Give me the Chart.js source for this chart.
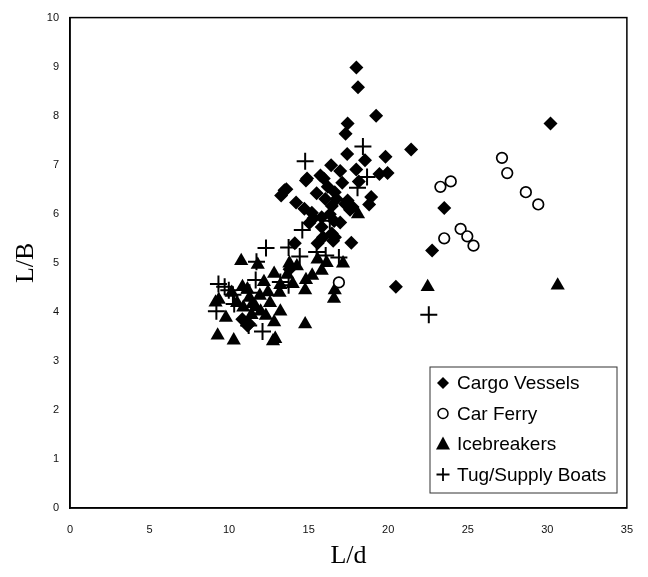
<!DOCTYPE html>
<html>
<head>
<meta charset="utf-8">
<script src="https://cdn.jsdelivr.net/npm/chart.js@4.4.1/dist/chart.umd.min.js"></script>
<style>
  body { margin: 0; background: #fff; }
</style>
</head>
<body>
<canvas id="ratioChart" width="648" height="577"></canvas>
<script>
// L/d vs L/B
const cargoVessels = [
  [18.0, 8.98], [18.1, 8.58], [19.24, 8.0], [17.45, 7.84], [17.32, 7.63], [21.44, 7.31],
  [30.2, 7.84], [17.42, 7.22], [19.83, 7.16], [18.54, 7.09], [16.41, 6.99], [16.98, 6.87],
  [17.99, 6.9], [19.96, 6.83], [19.45, 6.81], [18.15, 6.66], [17.11, 6.63], [15.74, 6.78],
  [14.83, 6.68], [13.48, 6.48], [13.27, 6.37], [16.64, 6.44], [15.5, 6.42], [14.21, 6.23],
  [14.73, 6.1], [17.45, 6.27], [17.76, 6.14], [18.93, 6.34], [18.8, 6.19], [16.46, 6.16],
  [15.82, 5.93], [15.3, 5.91], [15.04, 5.81], [16.98, 5.82], [23.52, 6.12], [14.13, 5.4],
  [15.56, 5.4], [16.54, 5.45], [17.68, 5.41], [22.76, 5.25], [20.48, 4.51], [16.46, 5.6],
  [16.33, 5.99], [15.82, 5.73], [10.83, 3.85], [11.27, 3.75], [11.15, 3.72], [13.8, 4.87],
  [15.95, 6.72], [16.2, 6.55], [16.75, 6.3], [17.3, 6.2], [17.6, 6.08], [15.2, 6.02],
  [16.05, 6.3], [16.6, 5.85], [15.9, 5.52], [16.65, 5.52], [14.9, 6.72], [13.6, 6.5]
];
const carFerry = [
  [16.9, 4.6], [23.28, 6.55], [23.93, 6.66], [23.52, 5.5], [24.55, 5.69], [24.97, 5.54],
  [25.36, 5.35], [27.15, 7.14], [27.48, 6.83], [28.65, 6.44], [29.43, 6.19]
];
const icebreakers = [
  [30.65, 4.54], [22.48, 4.51], [14.78, 3.75], [9.28, 3.52], [10.29, 3.42], [12.76, 3.4],
  [12.83, 3.79], [9.15, 4.19], [9.8, 3.88], [10.76, 5.04], [11.8, 4.96], [10.84, 4.51],
  [16.59, 4.27], [16.64, 4.44], [17.16, 4.99], [15.82, 4.84], [14.78, 4.44], [14.83, 4.65],
  [13.79, 4.99], [13.66, 4.76], [12.83, 4.78], [12.19, 4.61], [13.17, 4.39], [13.22, 4.01],
  [12.57, 4.18], [11.93, 4.33], [11.46, 4.16], [10.89, 4.09], [11.41, 3.94], [11.98, 4.01],
  [10.16, 4.39], [11.15, 4.46], [18.1, 5.99], [14.26, 4.93], [15.22, 4.74], [16.13, 5.0],
  [14.0, 4.57], [12.44, 4.4], [11.28, 4.29], [11.67, 4.1], [12.31, 3.92], [10.5, 4.18],
  [15.56, 5.07], [13.22, 4.55], [12.9, 3.45], [9.35, 4.25]
];
const tugSupplyBoats = [
  [14.78, 7.07], [18.41, 7.37], [18.07, 6.53], [18.67, 6.75], [12.32, 5.3], [14.6, 5.67],
  [13.74, 5.31], [14.44, 5.13], [15.5, 5.22], [16.07, 5.15], [16.9, 5.11], [16.33, 5.86],
  [9.33, 4.57], [9.72, 4.51], [9.98, 4.44], [10.24, 4.35], [10.32, 4.16], [9.2, 4.01],
  [11.72, 5.02], [11.67, 4.65], [11.28, 4.39], [11.23, 3.72], [12.1, 3.6], [13.74, 4.54],
  [13.22, 4.61], [22.55, 3.94]
];
const seriesNames = ["Cargo Vessels", "Car Ferry", "Icebreakers", "Tug/Supply Boats"];
const xTitle = "L/d";
const yTitle = "L/B";

const toPts = arr => arr.map(p => ({ x: p[0], y: p[1] }));

// box round the plot + legend in the lower right corner
const frameAndLegend = {
  id: "frameAndLegend",
  afterDraw(chart) {
    const ctx = chart.ctx;
    const a = chart.chartArea;
    ctx.save();
    ctx.strokeStyle = "#000";
    ctx.lineWidth = 1.5;
    ctx.strokeRect(a.left, a.top, a.right - a.left, a.bottom - a.top);

    const bx = a.left + 360, by = 367, bw = 187, bh = 126;
    ctx.fillStyle = "#fff";
    ctx.fillRect(bx, by, bw, bh);
    ctx.lineWidth = 1;
    ctx.strokeStyle = "#333";
    ctx.strokeRect(bx, by, bw, bh);

    ctx.font = "19px 'Liberation Sans', Arial, sans-serif";
    ctx.textBaseline = "middle";
    ctx.textAlign = "left";
    seriesNames.forEach((name, i) => {
      const cy = by + 16 + i * 30.5;
      const cx = bx + 13;
      ctx.fillStyle = "#000";
      ctx.strokeStyle = "#000";
      ctx.beginPath();
      if (i === 0) {
        ctx.moveTo(cx - 6, cy); ctx.lineTo(cx, cy - 6);
        ctx.lineTo(cx + 6, cy); ctx.lineTo(cx, cy + 6);
        ctx.closePath(); ctx.fill();
      } else if (i === 1) {
        ctx.lineWidth = 1.5;
        ctx.arc(cx, cy, 5, 0, Math.PI * 2); ctx.stroke();
      } else if (i === 2) {
        ctx.moveTo(cx, cy - 7.5); ctx.lineTo(cx + 7, cy + 5.5);
        ctx.lineTo(cx - 7, cy + 5.5); ctx.closePath(); ctx.fill();
      } else {
        ctx.lineWidth = 1.8;
        ctx.moveTo(cx - 6.5, cy); ctx.lineTo(cx + 6.5, cy);
        ctx.moveTo(cx, cy - 6.5); ctx.lineTo(cx, cy + 6.5); ctx.stroke();
      }
      ctx.fillText(name, bx + 27, cy + 1);
    });
    ctx.restore();
  }
};

new Chart(document.getElementById("ratioChart"), {
  type: "scatter",
  data: {
    datasets: [
      {
        label: seriesNames[0],
        data: toPts(cargoVessels),
        pointStyle: "rectRot",
        pointRadius: 7,
        backgroundColor: "#000",
        borderColor: "#000",
        borderWidth: 0
      },
      {
        label: seriesNames[1],
        data: toPts(carFerry),
        pointStyle: "circle",
        pointRadius: 5.3,
        backgroundColor: "#fff",
        borderColor: "#000",
        borderWidth: 1.7
      },
      {
        label: seriesNames[2],
        data: toPts(icebreakers),
        pointStyle: "triangle",
        pointRadius: 8.2,
        backgroundColor: "#000",
        borderColor: "#000",
        borderWidth: 0
      },
      {
        label: seriesNames[3],
        data: toPts(tugSupplyBoats),
        pointStyle: "cross",
        pointRadius: 8.5,
        backgroundColor: "#000",
        borderColor: "#000",
        borderWidth: 2
      }
    ]
  },
  options: {
    responsive: false,
    animation: false,
    layout: { padding: { left: 0, top: 15, right: 19, bottom: 0 } },
    plugins: {
      legend: { display: false },
      tooltip: { enabled: false }
    },
    scales: {
      x: {
        type: "linear",
        min: 0,
        max: 35,
        ticks: {
          stepSize: 5,
          padding: 15,
          color: "#111",
          font: { family: "'Liberation Sans', Arial, sans-serif", size: 11 }
        },
        grid: { display: false, drawTicks: false },
        border: { display: true, color: "#000", width: 1.5 },
        title: {
          display: true,
          text: xTitle,
          color: "#000",
          font: { family: "'Liberation Serif', 'Times New Roman', serif", size: 26 },
          padding: { top: 0, bottom: 5 }
        },
        afterFit(scale) { scale.height = 69; }
      },
      y: {
        type: "linear",
        min: 0,
        max: 10,
        ticks: {
          stepSize: 1,
          padding: 11,
          color: "#111",
          font: { family: "'Liberation Sans', Arial, sans-serif", size: 11 }
        },
        grid: { display: false, drawTicks: false },
        border: { display: true, color: "#000", width: 1.5 },
        title: {
          display: true,
          text: yTitle,
          color: "#000",
          font: { family: "'Liberation Serif', 'Times New Roman', serif", size: 26 },
          padding: { top: 11, bottom: 0 }
        },
        afterFit(scale) { scale.width = 70; }
      }
    }
  },
  plugins: [frameAndLegend]
});
</script>
</body>
</html>
